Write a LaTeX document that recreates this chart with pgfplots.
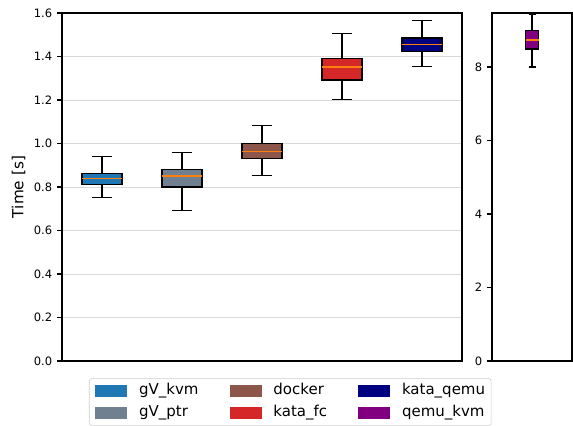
\documentclass[border=0pt]{standalone}
\usepackage{fontspec}
\setmainfont{DejaVu Sans}
\usepackage{pgfplots}
\pgfplotsset{compat=1.18}
\usepgfplotslibrary{statistics}
\definecolor{cgvkvm}{HTML}{1F77B4}
\definecolor{cgvptr}{HTML}{708090}
\definecolor{cdocker}{HTML}{8C564B}
\definecolor{ckatafc}{HTML}{D62728}
\definecolor{ckataqemu}{HTML}{000080}
\definecolor{cqemukvm}{HTML}{800080}
\definecolor{cmedian}{HTML}{FF7F0E}
\pgfplotsset{
  common/.style={
    scale only axis,
    anchor=south west,
    height=250.56pt,
    xtick=\empty,
    ytick pos=left,
    tick align=outside,
    major tick length=3.5pt,
    axis line style={black, line width=0.8pt},
    every tick/.style={black, line width=0.8pt},
    /pgf/number format/assume math mode=true,
    tick label style={font=\fontsize{8.3}{10}\selectfont},
    boxplot/draw direction=y,
    boxplot/every median/.style={draw=cmedian, line width=1pt},
    boxplot/every box/.style={draw=black, line width=0.8pt},
    boxplot/every whisker/.style={draw=black, line width=0.8pt},
  },
}
\begin{document}
\begin{tikzpicture}
\path[use as bounding box] (-44.64pt,-46.8pt) rectangle (367.92pt,259.92pt);
\begin{axis}[common,
  at={(0pt,0pt)},
  width=288pt,
  xmin=0.5, xmax=5.5, ymin=0, ymax=1.6,
  ytick={0,0.2,0.4,0.6,0.8,1.0,1.2,1.4,1.6},
  yticklabel style={/pgf/number format/.cd, fixed, fixed zerofill, precision=1},
  ymajorgrids,
  grid style={black!15, line width=0.6pt},
  ylabel={Time [s]},
  ylabel style={at={([xshift=-31.3pt]axis description cs:0,0.5)}, anchor=center, font=\fontsize{11}{13}\selectfont},
  legend columns=3,
  legend cell align=left,
  legend image code/.code={\fill[#1,draw=none,sharp corners] (0pt,-4.3pt) rectangle (23pt,4.3pt);},
  legend style={at={(0.0675,-0.0489)}, anchor=north west,
    draw=black!20, rounded corners=2pt,
    font=\fontsize{10.8}{13}\selectfont,
    inner xsep=4.3pt, inner ysep=3.9pt,
    nodes={inner sep=0pt, text height=8pt, text depth=2.5pt},
    row sep=5.3pt,
    /tikz/every odd column/.append style={column sep=8.6pt},
    /tikz/every even column/.append style={column sep=22.3pt},
  },
]
\addplot[forget plot, fill=cgvkvm, boxplot prepared={draw position=1, lower whisker=0.750, lower quartile=0.811, median=0.840, upper quartile=0.863, upper whisker=0.942, box extend=0.5, whisker extend=0.26}] coordinates {};
\addplot[forget plot, fill=cgvptr, boxplot prepared={draw position=2, lower whisker=0.692, lower quartile=0.800, median=0.851, upper quartile=0.881, upper whisker=0.960, box extend=0.5, whisker extend=0.26}] coordinates {};
\addplot[forget plot, fill=cdocker, boxplot prepared={draw position=3, lower whisker=0.851, lower quartile=0.930, median=0.962, upper quartile=1.000, upper whisker=1.083, box extend=0.5, whisker extend=0.26}] coordinates {};
\addplot[forget plot, fill=ckatafc, boxplot prepared={draw position=4, lower whisker=1.203, lower quartile=1.292, median=1.352, upper quartile=1.392, upper whisker=1.504, box extend=0.5, whisker extend=0.26}] coordinates {};
\addplot[forget plot, fill=ckataqemu, boxplot prepared={draw position=5, lower whisker=1.352, lower quartile=1.423, median=1.454, upper quartile=1.485, upper whisker=1.564, box extend=0.5, whisker extend=0.26}] coordinates {};
\addlegendimage{fill=cgvkvm}\addlegendentry{gV\_kvm}
\addlegendimage{fill=cdocker}\addlegendentry{docker}
\addlegendimage{fill=ckataqemu}\addlegendentry{kata\_qemu}
\addlegendimage{fill=cgvptr}\addlegendentry{gV\_ptr}
\addlegendimage{fill=ckatafc}\addlegendentry{kata\_fc}
\addlegendimage{fill=cqemukvm}\addlegendentry{qemu\_kvm}
\end{axis}
\begin{axis}[common,
  at={(309.6pt,0pt)},
  width=57.6pt,
  xmin=0.5, xmax=1.5, ymin=0, ymax=9.47,
  ytick={0,2,4,6,8},
]
\addplot[forget plot, fill=cqemukvm, boxplot prepared={draw position=1, lower whisker=8.00, lower quartile=8.49, median=8.73, upper quartile=9.00, upper whisker=9.42, box extend=0.1625, whisker extend=0.0875}] coordinates {};
\end{axis}
\end{tikzpicture}
\end{document}
